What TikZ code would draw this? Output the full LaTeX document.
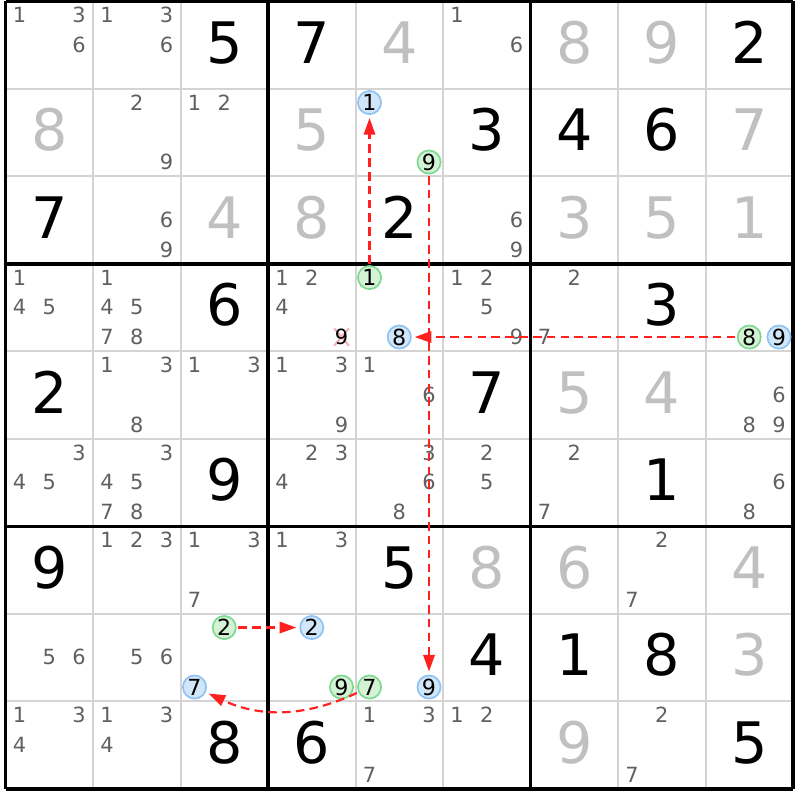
\documentclass[tikz,border=0pt]{standalone}
\usepackage{fontspec}
\setmainfont{DejaVu Sans}
\usepackage{tikz}
\usetikzlibrary{arrows.meta}

\definecolor{solvedgray}{HTML}{C0C0C0}
\definecolor{candgray}{HTML}{606060}
\definecolor{gridgray}{HTML}{D4D4D4}
\definecolor{bluefill}{HTML}{D2E6FA}
\definecolor{blueedge}{HTML}{8EC2F2}
\definecolor{greenfill}{HTML}{D4F2D6}
\definecolor{greenedge}{HTML}{7ED88E}
\definecolor{linkred}{HTML}{FF2020}
\definecolor{strikered}{HTML}{F4A0A8}

\tikzset{
  given/.style={font=\fontsize{18.6}{20}\selectfont, text=black, inner sep=0pt},
  solved/.style={given, text=solvedgray},
  cand/.style={font=\fontsize{6.8}{8}\selectfont, text=candgray, inner sep=0pt},
  bluecand/.style={circle, draw=blueedge, fill=bluefill, line width=0.55pt,
    minimum size=0.265cm, inner sep=0pt, font=\fontsize{7.2}{8}\selectfont},
  greencand/.style={bluecand, draw=greenedge, fill=greenfill},
  link/.style={draw=linkred, line width=0.7pt, dash pattern=on 2.8pt off 1.7pt,
    -{Triangle[length=0.19cm,width=0.13cm]}, shorten >=1pt, shorten <=0.5pt},
  strike/.style={strikered, line width=0.7pt, opacity=0.8}
}

% cell (row, col) -> candidate position p
\newcommand{\candpos}[3]{%
  \pgfmathsetmacro{\cx}{#2-1+0.16+0.34*mod(#3-1,3)}%
  \pgfmathsetmacro{\cy}{-#1+1-0.155-0.34*int((#3-1)/3)}}
\newcommand{\given}[3]{\node[given] (n#1#2) at (#2-0.5, -#1+0.53) {#3};}
\newcommand{\solved}[3]{\node[solved] (n#1#2) at (#2-0.5, -#1+0.53) {#3};}
\newcommand{\cands}[3]{%
  \foreach \p in {#3} {\candpos{#1}{#2}{\p}\node[cand] (n#1#2-\p) at (\cx,\cy) {\p};}}
\newcommand{\pick}[4]{\candpos{#1}{#2}{#3}\node[#4] (n#1#2-#3) at (\cx,\cy) {#3};}

\begin{document}
\begin{tikzpicture}
        \useasboundingbox (-0.063,0.017) rectangle (9.08,-9.126);

        % grid
        \foreach \i in {1,2,4,5,7,8} {
          \draw[gridgray, line width=0.65pt] (\i,0) -- (\i,-9);
          \draw[gridgray, line width=0.65pt] (0,-\i) -- (9,-\i);
        }
        \foreach \i in {0,3,6,9} {
          \draw[line width=1pt] (\i,0) -- (\i,-9);
          \draw[line width=1pt] (0,-\i) -- (9,-\i);
        }

        % row 1
        \cands{1}{1}{1,3,6} \cands{1}{2}{1,3,6} \given{1}{3}{5}
        \given{1}{4}{7} \solved{1}{5}{4} \cands{1}{6}{1,6}
        \solved{1}{7}{8} \solved{1}{8}{9} \given{1}{9}{2}
        % row 2
        \solved{2}{1}{8} \cands{2}{2}{2,9} \cands{2}{3}{1,2}
        \solved{2}{4}{5} \pick{2}{5}{1}{bluecand} \pick{2}{5}{9}{greencand}
        \given{2}{6}{3} \given{2}{7}{4} \given{2}{8}{6} \solved{2}{9}{7}
        % row 3
        \given{3}{1}{7} \cands{3}{2}{6,9} \solved{3}{3}{4}
        \solved{3}{4}{8} \given{3}{5}{2} \cands{3}{6}{6,9}
        \solved{3}{7}{3} \solved{3}{8}{5} \solved{3}{9}{1}
        % row 4
        \cands{4}{1}{1,4,5} \cands{4}{2}{1,4,5,7,8} \given{4}{3}{6}
        \cands{4}{4}{1,2,4}
        \candpos{4}{4}{9}
        \draw[strike] (\cx-0.085,\cy-0.1) -- (\cx+0.085,\cy+0.1)
          (\cx-0.085,\cy+0.1) -- (\cx+0.085,\cy-0.1);
        \node[cand, text=black] (n44-9) at (\cx,\cy) {9};
        \pick{4}{5}{1}{greencand} \pick{4}{5}{8}{bluecand}
        \cands{4}{6}{1,2,5,9} \cands{4}{7}{2,7} \given{4}{8}{3}
        \pick{4}{9}{8}{greencand} \pick{4}{9}{9}{bluecand}
        % row 5
        \given{5}{1}{2} \cands{5}{2}{1,3,8} \cands{5}{3}{1,3}
        \cands{5}{4}{1,3,9} \cands{5}{5}{1,6} \given{5}{6}{7}
        \solved{5}{7}{5} \solved{5}{8}{4} \cands{5}{9}{6,8,9}
        % row 6
        \cands{6}{1}{3,4,5} \cands{6}{2}{3,4,5,7,8} \given{6}{3}{9}
        \cands{6}{4}{2,3,4} \cands{6}{5}{3,6,8} \cands{6}{6}{2,5}
        \cands{6}{7}{2,7} \given{6}{8}{1} \cands{6}{9}{6,8}
        % row 7
        \given{7}{1}{9} \cands{7}{2}{1,2,3} \cands{7}{3}{1,3,7}
        \cands{7}{4}{1,3} \given{7}{5}{5} \solved{7}{6}{8}
        \solved{7}{7}{6} \cands{7}{8}{2,7} \solved{7}{9}{4}
        % row 8
        \cands{8}{1}{5,6} \cands{8}{2}{5,6}
        \pick{8}{3}{2}{greencand} \pick{8}{3}{7}{bluecand}
        \pick{8}{4}{2}{bluecand} \pick{8}{4}{9}{greencand}
        \pick{8}{5}{7}{greencand} \pick{8}{5}{9}{bluecand}
        \given{8}{6}{4} \given{8}{7}{1} \given{8}{8}{8} \solved{8}{9}{3}
        % row 9
        \cands{9}{1}{1,3,4} \cands{9}{2}{1,3,4} \given{9}{3}{8}
        \given{9}{4}{6} \cands{9}{5}{1,3,7} \cands{9}{6}{1,2}
        \solved{9}{7}{9} \cands{9}{8}{2,7} \given{9}{9}{5}

        % chain
        \draw[link] (n45-1) -- (n25-1);
        \draw[link] (n25-9) -- (n85-9);
        \draw[link] (n49-8) -- (n45-8);
        \draw[link] (n83-2) -- (n84-2);
        \draw[link] (n85-7) to[bend left=25] (n83-7);
      \end{tikzpicture}
\end{document}
